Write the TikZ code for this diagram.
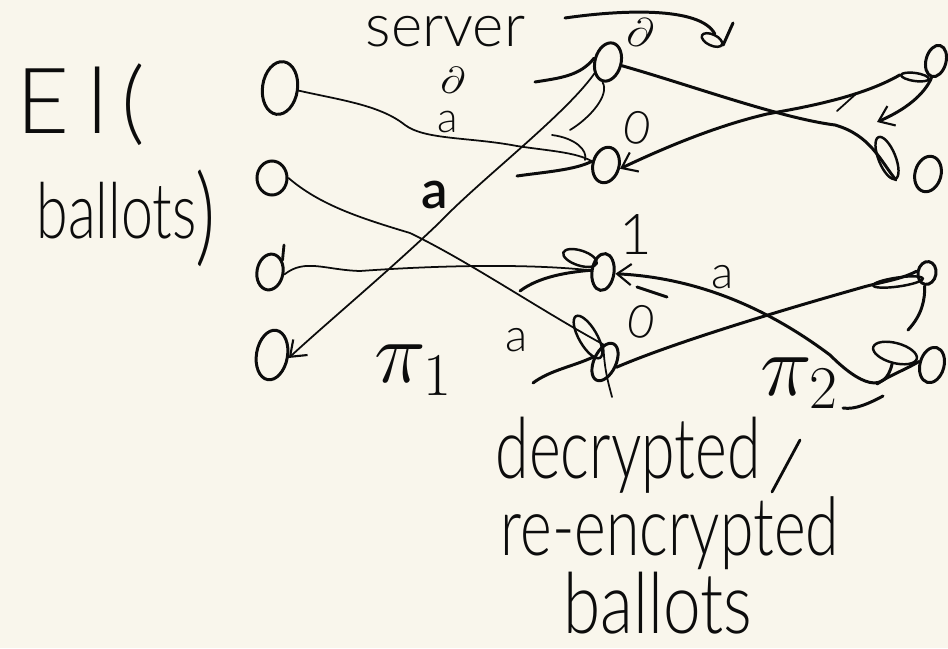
\documentclass[tikz,border=0pt]{standalone}
\usepackage{fontspec}
\usepackage{graphicx}
\setmainfont{Lato Light}
\usetikzlibrary{shapes.geometric,arrows.meta}
\definecolor{paper}{RGB}{249,246,236}
\definecolor{ink}{RGB}{12,12,12}
\begin{document}
\begin{tikzpicture}[x=0.01cm,y=-0.01cm,
  pen/.style={draw=ink,line width=0.5pt,line cap=round,line join=round},
  heavy/.style={draw=ink,line width=0.85pt,line cap=round,line join=round},
  ball/.style={ellipse,draw=ink,line width=0.85pt,inner sep=0pt},
  loopy/.style={ellipse,draw=ink,line width=0.7pt,inner sep=0pt},
  hand/.style={text=ink,inner sep=0pt},
  small/.style={hand,font=\fontsize{13}{13}\selectfont},
  barb/.style={-{Straight Barb[length=4pt,width=6pt,line width=0.6pt]}}
]
\fill[paper] (0,0) rectangle (948,648);
\useasboundingbox (0,0) rectangle (948,648);

% ---------- titles ----------
\node[hand,font=\fontsize{26}{26}\selectfont,anchor=base west] (el) at (16,133) {E\hspace{5pt}l\hspace{4pt}(};
\node[hand,font=\fontsize{22}{22}\selectfont,anchor=base west] (bal) at (36,238) {\scalebox{0.74}[1]{ballots}};
\node[hand,font=\fontsize{28}{28}\selectfont] (paren) at (206,218) {\scalebox{0.8}[1.1]{)}};
\node[hand,font=\fontsize{17}{17}\selectfont,anchor=base west] (srv) at (365,46) {server};

% ---------- input ballots ----------
\node[ball,minimum width=0.35cm,minimum height=0.53cm,rotate=-8] (a1) at (280,88) {};
\node[ball,minimum width=0.30cm,minimum height=0.34cm] (a2) at (272,178) {};
\node[ball,minimum width=0.26cm,minimum height=0.36cm,rotate=-10] (a3) at (270,272) {};
\node[ball,minimum width=0.31cm,minimum height=0.50cm,rotate=-10] (a4) at (272,355) {};
\draw[pen,line width=0.8pt] (a3.north east) -- (284,245);

% ---------- first server outputs ----------
\node[ball,minimum width=0.26cm,minimum height=0.39cm,rotate=-15] (b1) at (608,62) {};
\node[ball,minimum width=0.26cm,minimum height=0.36cm,rotate=-15] (b2) at (606,165) {};
\node[ball,minimum width=0.22cm,minimum height=0.37cm,rotate=-8] (b3) at (603,272) {};
\node[ball,minimum width=0.22cm,minimum height=0.40cm,rotate=-25] (b4) at (605,362) {};
\node[loopy,minimum width=0.35cm,minimum height=0.15cm,rotate=-18] (b3loop) at (580,258) {};
\node[loopy,minimum width=0.18cm,minimum height=0.48cm,rotate=30] (b4loop) at (588,337) {};

% ---------- second server outputs ----------
\node[ball,minimum width=0.20cm,minimum height=0.32cm,rotate=-15] (c1) at (936,61) {};
\node[ball,minimum width=0.26cm,minimum height=0.36cm,rotate=-15] (c2) at (928,174) {};
\node[ball,minimum width=0.18cm,minimum height=0.23cm,rotate=-10] (c3) at (927,273) {};
\node[ball,minimum width=0.24cm,minimum height=0.36cm,rotate=-15] (c4) at (932,365) {};
\node[loopy,minimum width=0.28cm,minimum height=0.08cm,rotate=-8] (c1loop) at (915,77) {};
\node[loopy,minimum width=0.17cm,minimum height=0.45cm,rotate=22] (c2loop) at (887,158) {};
\node[loopy,minimum width=0.50cm,minimum height=0.09cm,rotate=8] (c3loop) at (898,282) {};
\node[loopy,minimum width=0.45cm,minimum height=0.20cm,rotate=-15] (c4loop) at (895,353) {};

% ---------- first permutation ----------
\draw[pen] (a1.east) .. controls (340,100) and (380,105) .. (405,125)
  .. controls (425,140) and (470,137) .. (517,146)
  .. controls (550,151) and (575,152) .. (b2.west);
\draw[pen] (552,135) .. controls (575,138) and (588,150) .. (585,160);
\draw[pen] (a2.east) .. controls (320,205) and (360,218) .. (410,233)
  .. controls (470,262) and (540,310) .. (b4.north west)
  .. controls (604,370) and (609,385) .. (612,397);
\draw[pen] (a3.east) .. controls (305,258) and (325,270) .. (360,271)
  .. controls (430,266) and (520,263) .. (b3.west);
\draw[pen,barb] (b1.south west) .. controls (565,115) and (480,180) .. (440,222)
  .. controls (390,270) and (330,320) .. (a4.east);
\draw[pen] (b1.south) .. controls (610,95) and (590,118) .. (570,130);

% strokes entering the first server outputs
\draw[heavy] (535,82) .. controls (560,78) and (580,76) .. (b1.west);
\draw[heavy] (517,176) .. controls (545,172) and (575,170) .. (b2.west);
\draw[heavy] (520,291) .. controls (540,276) and (570,272) .. (b3.west);
\draw[heavy] (533,383) .. controls (550,370) and (575,366) .. (b4.west);

% ---------- second permutation ----------
\draw[heavy] (b1.east) .. controls (690,85) and (780,118) .. (835,125)
  .. controls (870,135) and (880,160) .. (c2loop.south);
\draw[heavy,barb] (c1loop.west) .. controls (860,98) and (800,108) .. (767,114)
  .. controls (720,125) and (670,145) .. (b2.east);
\draw[pen] (857,93) -- (837,111);
\draw[heavy,barb] (c1.south) .. controls (924,95) and (905,110) .. (877,122);
\draw[heavy,barb] (c4loop.south) .. controls (885,395) and (860,385) .. (830,355)
  .. controls (770,310) and (700,278) .. (b3.east);
\draw[heavy] (637,287) -- (667,297);
\draw[heavy] (b4.east) .. controls (680,340) and (800,305) .. (860,288)
  .. controls (880,282) and (900,280) .. (c3.west);
\draw[heavy] (c3.south) .. controls (925,300) and (922,315) .. (908,330);
\draw[heavy] (877,384) .. controls (890,375) and (905,370) .. (c4.west);

% ---------- arrow over the top ----------
\node[loopy,minimum width=0.22cm,minimum height=0.11cm,rotate=-25] (toploop) at (712,40) {};
\draw[heavy] (565,18) .. controls (620,10) and (700,6) .. (toploop.north);
\draw[heavy] (toploop.east) -- (733,23);

% ---------- labels ----------
\node[hand,font=\fontsize{13}{13}\selectfont,rotate=-15] (d1) at (641,32) {$\partial$};
\node[hand,font=\fontsize{11}{11}\selectfont,rotate=-10] (d2) at (453,80) {$\partial$};
\node[small,font=\fontsize{12}{12}\selectfont] (q1) at (448,122) {a};
\node[small,rotate=-10] (z1) at (637,128) {0};
\node[hand,font=\fontsize{16}{16}\selectfont] (o1) at (636,235) {1};
\node[small,rotate=-10] (z2) at (641,322) {0};
\node[small,font=\fontsize{15}{15}\selectfont\bfseries] (q2) at (435,195) {a};
\node[small] (q3) at (517,340) {a};
\node[small] (q4) at (723,277) {a};
\node[hand,font=\fontsize{24}{24}\selectfont] (pi1) at (414,370) {$\pi_{1}$};
\node[hand,font=\fontsize{24}{24}\selectfont] (pi2) at (800,383) {$\pi_{2}$};
\draw[heavy] (843,408) .. controls (855,410) and (870,403) .. (883,396);

% ---------- caption ----------
\node[hand,font=\fontsize{24}{24}\selectfont,anchor=base west] (dec) at (495,478) {\scalebox{0.72}[1]{decrypted}};
\draw[pen,line width=0.8pt] (800,440) -- (772,492);
\node[hand,font=\fontsize{23}{23}\selectfont,anchor=base west] (reenc) at (500,555) {\scalebox{0.75}[1]{re-encrypted}};
\node[hand,font=\fontsize{24}{24}\selectfont,anchor=base west] (bal2) at (563,633) {\scalebox{0.8}[1]{ballots}};
\end{tikzpicture}
\end{document}
